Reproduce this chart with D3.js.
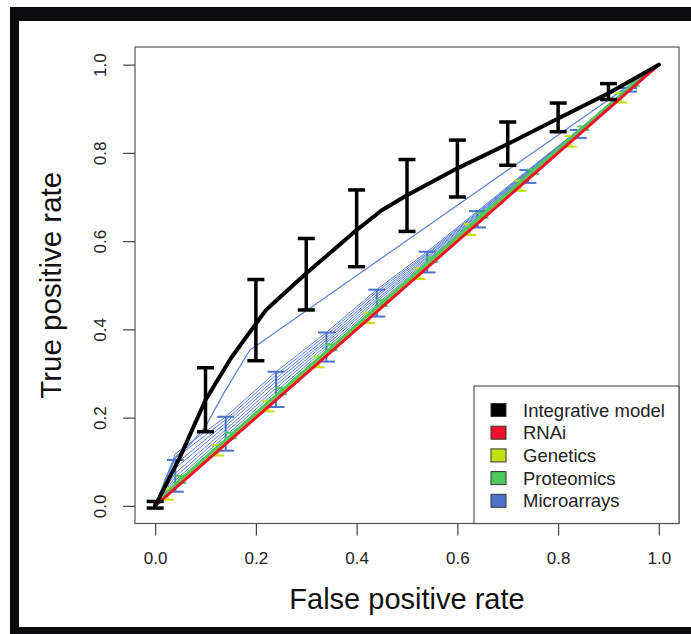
<!DOCTYPE html>
<html>
<head>
<meta charset="utf-8">
<script src="https://cdn.jsdelivr.net/npm/d3@7"></script>
<style>
  html, body { margin: 0; padding: 0; background: #fff; }
  svg { display: block; font-family: "Liberation Sans", Arial, sans-serif; }
</style>
</head>
<body>
<div id="chart"></div>
<script>
// ---------------------------------------------------------------------------
// Data
// ---------------------------------------------------------------------------
const tickValues = [0, 0.2, 0.4, 0.6, 0.8, 1.0];
const legendNames = ['Integrative model', 'RNAi', 'Genetics', 'Proteomics', 'Microarrays'];

// Integrative model: averaged ROC curve + vertical error bars
const integrativeX = [0, 0.05, 0.1, 0.15, 0.22, 0.3, 0.4, 0.45, 0.5, 0.6, 0.7, 0.8, 0.9, 1];
const integrativeY = [0, 0.112, 0.24, 0.334, 0.444, 0.527, 0.625, 0.67, 0.704, 0.765, 0.82, 0.878, 0.935, 1];
const integrativeBarX = [0, 0.1, 0.2, 0.3, 0.4, 0.5, 0.6, 0.7, 0.8, 0.9];
const integrativeLo = [-0.005, 0.168, 0.329, 0.444, 0.542, 0.622, 0.70, 0.772, 0.848, 0.921];
const integrativeHi = [0.01, 0.313, 0.513, 0.606, 0.716, 0.785, 0.829, 0.870, 0.913, 0.957];

// RNAi
const rnaiX = [0, 1];
const rnaiY = [0, 1];

// Genetics
const geneticsX = [0, 0.025, 0.125, 0.225, 0.325, 0.425, 0.525, 0.625, 0.725, 0.825, 0.925, 1];
const geneticsY = [0, 0.029, 0.13, 0.229, 0.329, 0.429, 0.529, 0.629, 0.729, 0.829, 0.928, 1];
const geneticsBarX = [0.025, 0.125, 0.225, 0.325, 0.425, 0.525, 0.625, 0.725, 0.825, 0.925];
const geneticsLo = [0.014, 0.114, 0.214, 0.314, 0.414, 0.514, 0.614, 0.714, 0.814, 0.914];
const geneticsHi = [0.04, 0.138, 0.237, 0.338, 0.438, 0.538, 0.638, 0.737, 0.838, 0.936];

// Proteomics
const proteomicsX = [0, 0.05, 0.15, 0.25, 0.35, 0.45, 0.55, 0.65, 0.75, 0.85, 0.95, 1];
const proteomicsY = [0, 0.06, 0.16, 0.26, 0.36, 0.46, 0.56, 0.66, 0.759, 0.858, 0.957, 1];
const proteomicsBarX = [0.05, 0.15, 0.25, 0.35, 0.45, 0.55, 0.65, 0.75, 0.85, 0.95];
const proteomicsLo = [0.052, 0.153, 0.253, 0.353, 0.453, 0.553, 0.653, 0.752, 0.852, 0.952];
const proteomicsHi = [0.068, 0.166, 0.267, 0.366, 0.466, 0.563, 0.664, 0.762, 0.86, 0.96];

// Microarrays: individual curves + error bars
const microX = [0, 0.04, 0.14, 0.24, 0.34, 0.44, 0.54, 0.64, 0.74, 0.84, 0.94, 1];
const micro1 = [0, 0.050, 0.152, 0.252, 0.352, 0.452, 0.551, 0.650, 0.750, 0.848, 0.944, 1];
const micro2 = [0, 0.058, 0.159, 0.259, 0.358, 0.457, 0.555, 0.653, 0.752, 0.849, 0.944, 1];
const micro3 = [0, 0.066, 0.166, 0.267, 0.364, 0.463, 0.558, 0.655, 0.753, 0.849, 0.945, 1];
const micro4 = [0, 0.074, 0.173, 0.274, 0.370, 0.468, 0.562, 0.658, 0.755, 0.850, 0.945, 1];
const micro5 = [0, 0.085, 0.181, 0.282, 0.375, 0.474, 0.565, 0.660, 0.756, 0.850, 0.946, 1];
const micro6 = [0, 0.094, 0.188, 0.289, 0.381, 0.479, 0.569, 0.663, 0.758, 0.851, 0.946, 1];
const micro7 = [0, 0.108, 0.195, 0.297, 0.387, 0.485, 0.572, 0.665, 0.759, 0.851, 0.947, 1];
const micro8 = [0, 0.118, 0.202, 0.304, 0.393, 0.490, 0.576, 0.668, 0.761, 0.852, 0.947, 1];
const microOutlierX = [0, 0.02, 0.04, 0.07, 0.1, 0.136, 0.188, 1];
const microOutlierY = [0, 0.06, 0.11, 0.14, 0.18, 0.255, 0.353, 1];
const microBarX = [0.04, 0.14, 0.24, 0.34, 0.44, 0.54, 0.64, 0.74, 0.84, 0.94];
const microLo = [0.032, 0.125, 0.224, 0.327, 0.429, 0.529, 0.631, 0.732, 0.834, 0.939];
const microHi = [0.104, 0.202, 0.304, 0.393, 0.490, 0.576, 0.668, 0.761, 0.852, 0.947];

// ---------------------------------------------------------------------------
// Styles
// ---------------------------------------------------------------------------
const colors = {
    'Integrative model': '#000000',
    'RNAi': '#f0112b',
    'Genetics': '#c4e011',
    'Proteomics': '#4cc95c',
    'Microarrays': '#4a73c9'
};
const microLineColor = '#5c82d4';

const W = 691, H = 634;
const plot = { left: 135, right: 679, top: 47, bottom: 523.5 };

const svg = d3.select('#chart').append('svg')
    .attr('width', W).attr('height', H);

// outer black frame (cropped figure border)
svg.append('rect').attr('x', 10).attr('y', 7).attr('width', W - 10).attr('height', H - 7).attr('fill', '#0b0c0e');
svg.append('rect').attr('x', 19).attr('y', 21).attr('width', W - 19).attr('height', 606).attr('fill', '#fff');

// R style: domain extended 4% on both sides
const x = d3.scaleLinear().domain([-0.04, 1.04]).range([plot.left, plot.right]);
const y = d3.scaleLinear().domain([-0.04, 1.04]).range([plot.bottom, plot.top]);

const line = d3.line().x(d => x(d[0])).y(d => y(d[1]));
const zip = (xs, ys) => xs.map((v, i) => [v, ys[i]]);

const g = svg.append('g');

function drawLine(xs, ys, color, width) {
    g.append('path')
        .datum(zip(xs, ys))
        .attr('d', line)
        .attr('fill', 'none')
        .attr('stroke', color)
        .attr('stroke-width', width)
        .attr('stroke-linejoin', 'round')
        .attr('stroke-linecap', 'round');
}

function drawBars(xs, lo, hi, color, width, cap) {
    const bars = g.append('g');
    xs.forEach((xv, i) => {
        const cx = x(xv);
        bars.append('line').attr('x1', cx).attr('x2', cx).attr('y1', y(lo[i])).attr('y2', y(hi[i]))
            .attr('stroke', color).attr('stroke-width', width);
        [lo[i], hi[i]].forEach(v => {
            bars.append('line').attr('x1', cx - cap / 2).attr('x2', cx + cap / 2)
                .attr('y1', y(v)).attr('y2', y(v))
                .attr('stroke', color).attr('stroke-width', width);
        });
    });
}

// Microarrays
[micro1, micro2, micro3, micro4, micro5, micro6, micro7, micro8].forEach(m => drawLine(microX, m, microLineColor, 1));
drawLine(microOutlierX, microOutlierY, microLineColor, 1.2);
drawBars(microBarX, microLo, microHi, colors['Microarrays'], 2, 17);

// Genetics / Proteomics
drawLine(geneticsX, geneticsY, colors['Genetics'], 3);
drawBars(geneticsBarX, geneticsLo, geneticsHi, colors['Genetics'], 2, 12);
drawLine(proteomicsX, proteomicsY, colors['Proteomics'], 3);
drawBars(proteomicsBarX, proteomicsLo, proteomicsHi, colors['Proteomics'], 2, 12);

// RNAi
drawLine(rnaiX, rnaiY, colors['RNAi'], 3);

// Integrative model
drawLine(integrativeX, integrativeY, colors['Integrative model'], 4);
drawBars(integrativeBarX, integrativeLo, integrativeHi, colors['Integrative model'], 3.5, 17);

// Plot box
svg.append('rect')
    .attr('x', plot.left).attr('y', plot.top)
    .attr('width', plot.right - plot.left).attr('height', plot.bottom - plot.top)
    .attr('fill', 'none').attr('stroke', '#555').attr('stroke-width', 1.2);

// Axes
const xAxis = svg.append('g')
    .attr('transform', `translate(0,${plot.bottom})`)
    .call(d3.axisBottom(x).tickValues(tickValues).tickSize(12).tickPadding(16).tickFormat(d3.format('.1f')));
xAxis.select('.domain').remove();

const yAxis = svg.append('g')
    .attr('transform', `translate(${plot.left},0)`)
    .call(d3.axisLeft(y).tickValues(tickValues).tickSize(12).tickFormat(d3.format('.1f')));
yAxis.select('.domain').remove();
yAxis.selectAll('text')
    .attr('transform', 'rotate(-90)')
    .attr('x', 0).attr('y', -29).attr('dy', 0)
    .attr('text-anchor', 'middle');

[xAxis, yAxis].forEach(a => {
    a.selectAll('.tick line').attr('stroke', '#444').attr('stroke-width', 1.2);
    a.selectAll('text').attr('font-size', 17).attr('fill', '#222')
        .attr('font-family', '"Liberation Sans", Arial, sans-serif');
});

// Axis titles
svg.append('text')
    .attr('x', (x(0) + x(1)) / 2).attr('y', 609)
    .attr('text-anchor', 'middle').attr('font-size', 29).attr('fill', '#111')
    .text('False positive rate');

svg.append('text')
    .attr('transform', `translate(61,${(plot.top + plot.bottom) / 2}) rotate(-90)`)
    .attr('text-anchor', 'middle').attr('font-size', 29.5).attr('fill', '#111')
    .text('True positive rate');

// Legend
const legend = svg.append('g');
legend.append('rect')
    .attr('x', 474).attr('y', 386).attr('width', plot.right - 474).attr('height', plot.bottom - 386)
    .attr('fill', '#fff').attr('stroke', '#555').attr('stroke-width', 1.2);

legendNames.forEach((name, i) => {
    const cy = 410 + i * 22.7;
    legend.append('rect')
        .attr('x', 491).attr('y', cy - 6.5).attr('width', 15).attr('height', 13)
        .attr('fill', colors[name]).attr('stroke', '#333').attr('stroke-width', 1);
    legend.append('text')
        .attr('x', 523).attr('y', cy + 6.5)
        .attr('font-size', 18.5).attr('fill', '#222')
        .text(name);
});
</script>
</body>
</html>
